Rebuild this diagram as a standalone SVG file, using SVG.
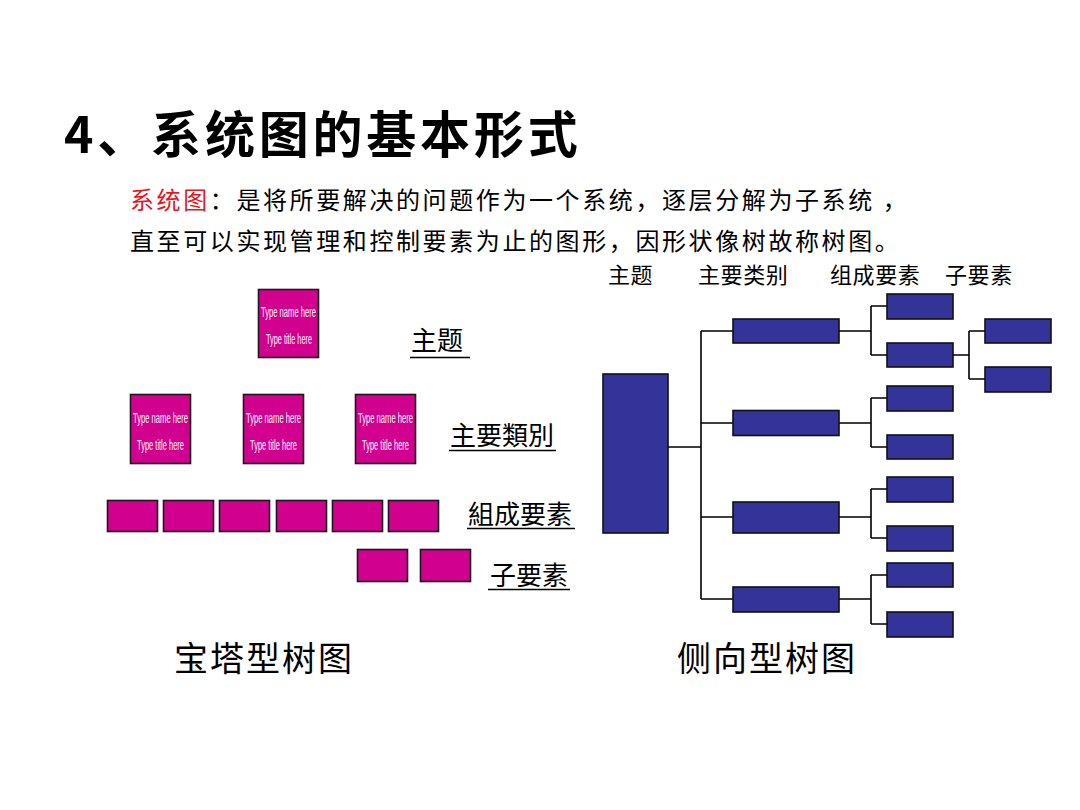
<svg xmlns="http://www.w3.org/2000/svg" width="1080" height="810" viewBox="0 0 1080 810">
<style>
.cjk{font-family:"Noto Sans CJK SC","Liberation Sans",sans-serif;fill:#000}
.title{font-size:50px;font-weight:bold;letter-spacing:3.8px}
.para{font-size:24px;letter-spacing:2.6px}
.lvl{font-size:26px}
.hdr{font-size:22px;letter-spacing:0.6px}
.cap{font-size:34px;letter-spacing:2px}
.mag{fill:#D1008F;stroke:#1a1a1a;stroke-width:1.6}
.blu{fill:#333399;stroke:#111;stroke-width:1.6}
.tn{font-family:"Liberation Sans Narrow","Liberation Sans",sans-serif;font-size:14px;fill:#fff2fa}
.ul{stroke:#000;stroke-width:1.6}
.conn path{fill:none;stroke:#000;stroke-width:1.6}
</style>
<rect width="1080" height="810" fill="#fff"/>
<text class="cjk title" x="64" y="153">4、系统图的基本形式</text>
<text class="cjk para" x="130" y="209"><tspan fill="#E8141E">系统图</tspan>：是将所要解决的问题作为一个系统，逐层分解为子系统 ，</text>
<text class="cjk para" x="130" y="250">直至可以实现管理和控制要素为止的图形，因形状像树故称树图。</text>

<g id="left-tree">
  <g id="l-topic"><rect class="mag" x="258.5" y="289.5" width="60" height="68"/>
    <text class="tn" x="261" y="317" textLength="55" lengthAdjust="spacingAndGlyphs">Type name here</text>
    <text class="tn" x="266" y="344" textLength="46" lengthAdjust="spacingAndGlyphs">Type title here</text></g>
  <g id="l-cat1"><rect class="mag" x="130.5" y="394.5" width="60" height="69"/>
    <text class="tn" x="133" y="423" textLength="55" lengthAdjust="spacingAndGlyphs">Type name here</text>
    <text class="tn" x="137" y="450" textLength="47" lengthAdjust="spacingAndGlyphs">Type title here</text></g>
  <g id="l-cat2"><rect class="mag" x="243.5" y="394.5" width="60" height="69"/>
    <text class="tn" x="246" y="423" textLength="55" lengthAdjust="spacingAndGlyphs">Type name here</text>
    <text class="tn" x="250" y="450" textLength="47" lengthAdjust="spacingAndGlyphs">Type title here</text></g>
  <g id="l-cat3"><rect class="mag" x="355.5" y="394.5" width="60" height="69"/>
    <text class="tn" x="358" y="423" textLength="55" lengthAdjust="spacingAndGlyphs">Type name here</text>
    <text class="tn" x="362" y="450" textLength="47" lengthAdjust="spacingAndGlyphs">Type title here</text></g>
  <g id="l-el1"><rect class="mag" x="107.5" y="500.5" width="50" height="31"/></g>
  <g id="l-el2"><rect class="mag" x="163.5" y="500.5" width="50" height="31"/></g>
  <g id="l-el3"><rect class="mag" x="219.5" y="500.5" width="50" height="31"/></g>
  <g id="l-el4"><rect class="mag" x="276.5" y="500.5" width="50" height="31"/></g>
  <g id="l-el5"><rect class="mag" x="332.5" y="500.5" width="50" height="31"/></g>
  <g id="l-el6"><rect class="mag" x="388.5" y="500.5" width="50" height="31"/></g>
  <g id="l-sub1"><rect class="mag" x="357.5" y="549.5" width="50" height="32"/></g>
  <g id="l-sub2"><rect class="mag" x="420.5" y="549.5" width="50" height="32"/></g>
  <g id="l-labels">
    <text class="cjk lvl" x="411" y="350" font-size="28">主题</text>
    <line class="ul" x1="410" y1="357.5" x2="470" y2="357.5"/>
    <text class="cjk lvl" x="450" y="445">主要類別</text>
    <line class="ul" x1="449" y1="450.5" x2="556" y2="450.5"/>
    <text class="cjk lvl" x="468" y="524">組成要素</text>
    <line class="ul" x1="467" y1="528.5" x2="575" y2="528.5"/>
    <text class="cjk lvl" x="490" y="585">子要素</text>
    <line class="ul" x1="488" y1="589.5" x2="570" y2="589.5"/>
  </g>
  <text class="cjk cap" x="174" y="671">宝塔型树图</text>
</g>

<g id="right-headers">
  <text class="cjk hdr" x="608" y="283">主题</text>
  <text class="cjk hdr" x="698" y="283">主要类别</text>
  <text class="cjk hdr" x="830" y="283">组成要素</text>
  <text class="cjk hdr" x="945" y="283">子要素</text>
</g>

<g class="conn" id="connectors">
  <path d="M668 447H701M701 331V599M701 331H733M701 423H733M701 517H733M701 599H733"/>
  <path d="M839 331H871M871 306V355M871 306H887M871 355H887"/>
  <path d="M839 423H871M871 398V447M871 398H887M871 447H887"/>
  <path d="M839 517H871M871 489V538M871 489H887M871 538H887"/>
  <path d="M839 599H871M871 575V624M871 575H887M871 624H887"/>
  <path d="M953 355H969M969 331V379M969 331H985M969 379H985"/>
</g>

<g id="r-root"><rect class="blu" x="603" y="374" width="65" height="159"/></g>
<g id="r-cat1"><rect class="blu" x="733" y="319" width="106" height="24"/></g>
<g id="r-cat2"><rect class="blu" x="733" y="410.5" width="106" height="25"/></g>
<g id="r-cat3"><rect class="blu" x="733" y="502" width="106" height="31"/></g>
<g id="r-cat4"><rect class="blu" x="733" y="587" width="106" height="25"/></g>
<g id="r-el1"><rect class="blu" x="887" y="294" width="66" height="25"/></g>
<g id="r-el2"><rect class="blu" x="887" y="343" width="66" height="24"/></g>
<g id="r-el3"><rect class="blu" x="887" y="386" width="66" height="25"/></g>
<g id="r-el4"><rect class="blu" x="887" y="435" width="66" height="24"/></g>
<g id="r-el5"><rect class="blu" x="887" y="477" width="66" height="25"/></g>
<g id="r-el6"><rect class="blu" x="887" y="526" width="66" height="25"/></g>
<g id="r-el7"><rect class="blu" x="887" y="563" width="66" height="24"/></g>
<g id="r-el8"><rect class="blu" x="887" y="612" width="66" height="25"/></g>
<g id="r-sub1"><rect class="blu" x="985" y="319" width="66" height="24"/></g>
<g id="r-sub2"><rect class="blu" x="985" y="367" width="66" height="25"/></g>
<text class="cjk cap" x="677" y="671">侧向型树图</text>
</svg>
